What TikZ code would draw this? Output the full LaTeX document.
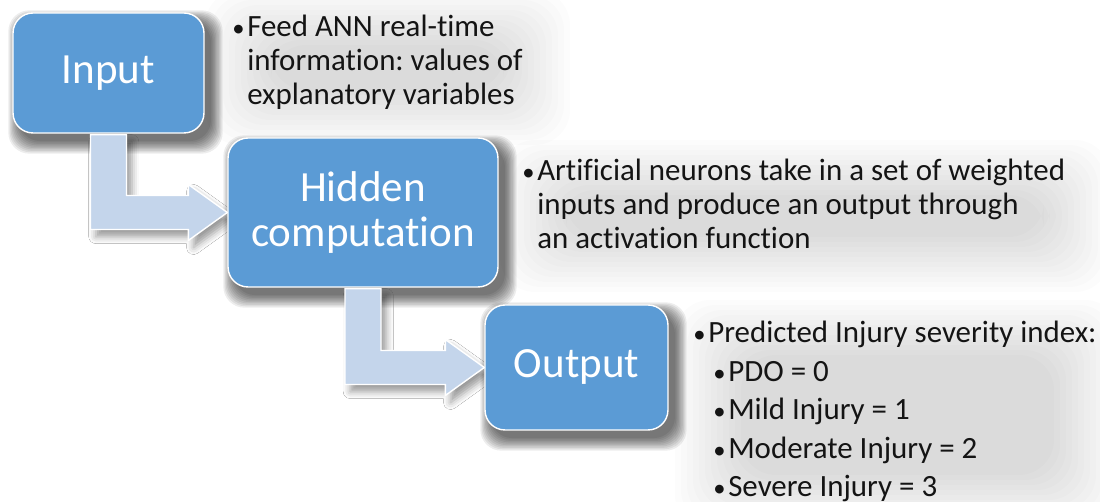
\documentclass[tikz,border=0pt]{standalone}
\usepackage{fontspec}
\setmainfont{Carlito}[Ligatures={NoCommon}]
\usetikzlibrary{calc}
\usetikzlibrary{backgrounds}
\usetikzlibrary{shadows.blur}
\definecolor{boxblue}{RGB}{91,155,213}
\definecolor{arrowblue}{RGB}{196,213,235}
\definecolor{bodytext}{RGB}{20,20,20}
\frenchspacing
\newcommand{\bul}{\makebox[8.5pt][l]{\fontsize{14}{14}\selectfont\textbullet}}
% bent block arrow from the bottom of #1 to the left side of #2
\newcommand{\bentarrow}[2]{%
  \path[arrowshape] ($(#1.south)+(-18,1)$) |- ($(#2.west)+(-39,17)$) -- ++(0,11)
    -- (#2.west) -- ($(#2.west)+(-39,-28)$) -- ++(0,11) -| ($(#1.south)+(18,1)$) -- cycle;}
% soft grey glow behind a text block
\newcommand{\softglow}[4]{%
  \foreach \k in {0,...,11}
    \fill[black, opacity=0.01, rounded corners=20pt] (#1+\k*6,#2+\k*5) rectangle (#3-\k*6,#4-\k*5);}
% drop shadow of a stage box
\newcommand{\boxshadow}[1]{%
  \foreach \k in {0,...,9}
    \fill[black, opacity=0.07, rounded corners=12pt] ($(#1.north west)+(-4+\k*1.2,-2+\k*1.2)$)
      rectangle ($(#1.south east)+(18-\k*1.3,20-\k*1.4)$);}

\begin{document}
\begin{tikzpicture}[x=0.02cm,y=-0.02cm,
    stagebox/.style={rectangle, rounded corners=0.4cm, fill=boxblue, draw=white, line width=0.8pt,
      text=white, align=center, font=\fontsize{24.5}{26}\selectfont},
    arrowshape/.style={fill=arrowblue, draw=white, line width=0.8pt,
      blur shadow={shadow xshift=3pt, shadow yshift=-4pt, shadow blur radius=4pt, shadow opacity=40}},
    bultext/.style={anchor=base west, inner sep=0pt, text=bodytext, font=\fontsize{17.6}{19.3}\selectfont}]
  \useasboundingbox (0,0) rectangle (1100,502);

  % stages
  \node[stagebox, minimum width=3.82cm, minimum height=2.4cm] (inbox) at (108.5,73) {Input};
  \node[stagebox, minimum width=5.4cm, minimum height=2.98cm] (hidbox) at (363,212.5) {Hidden\\computation};
  \node[stagebox, minimum width=3.66cm, minimum height=2.5cm] (outbox) at (576.5,367.5) {Output};

  % descriptions
  \node[bultext] (feedtxt) at (232,37) {\begin{tabular}[t]{@{}l@{}l@{}}
    \bul & Feed ANN real-time\\ & information: values of\\ & explanatory variables\end{tabular}};
  \node[bultext] (neurontxt) at (522,181) {\begin{tabular}[t]{@{}l@{}l@{}}
    \bul & Artificial neurons take in a set of weighted\\ & inputs and produce an output through\\ & an activation function\end{tabular}};
  \node[bultext] (predtxt) at (693,343) {\bul Predicted Injury severity index:};
  \foreach \lvl [count=\i] in {PDO = 0, Mild Injury = 1, Moderate Injury = 2, Severe Injury = 3}
    \node[bultext] (lvl\i) at (713,343+38.5*\i) {\bul \lvl};

  \begin{scope}[on background layer]
    \fill[white] (0,0) rectangle (1100,502);
    \softglow{205}{-10}{570}{145}
    \softglow{500}{140}{1110}{292}
    \softglow{675}{300}{1120}{530}
    \boxshadow{inbox}
    \boxshadow{hidbox}
    \boxshadow{outbox}
    \bentarrow{inbox}{hidbox}
    \bentarrow{hidbox}{outbox}
  \end{scope}
\end{tikzpicture}
\end{document}
